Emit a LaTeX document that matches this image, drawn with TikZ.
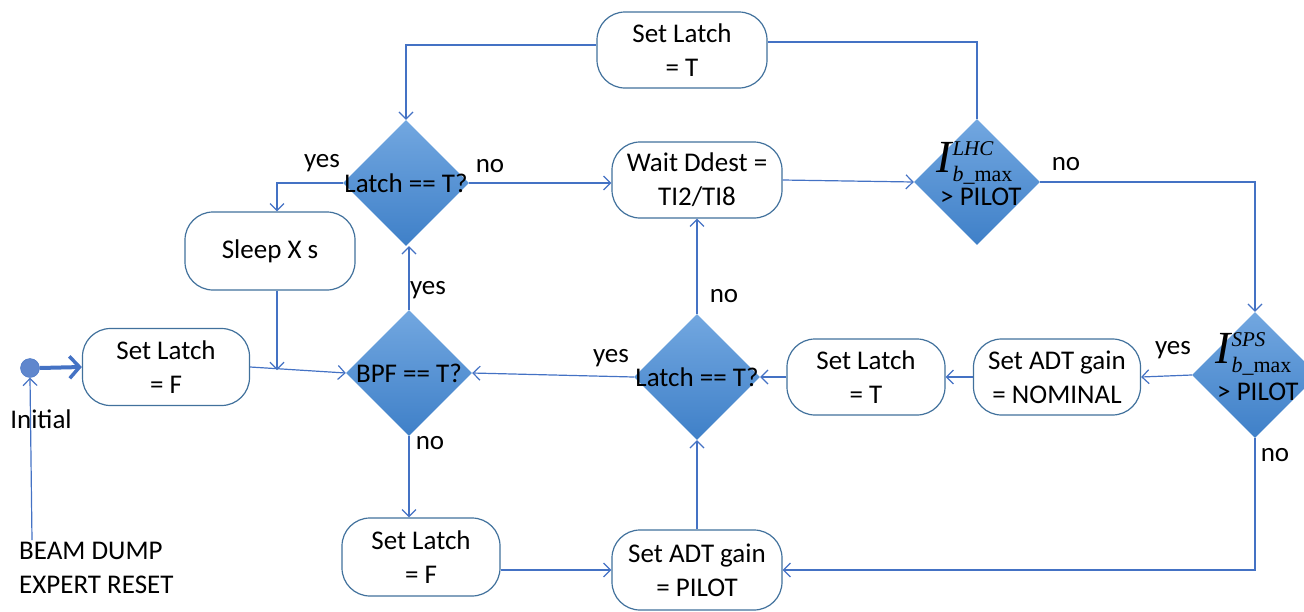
\documentclass[tikz,border=0pt]{standalone}
\usepackage{fontspec}
\setmainfont{Carlito}
\newfontfamily\tnr{Liberation Serif}
\usetikzlibrary{arrows.meta,shapes.geometric}
\definecolor{ln}{HTML}{4472C4}
\definecolor{bx}{HTML}{41719C}
\definecolor{dtop}{HTML}{72A7E0}
\definecolor{dbot}{HTML}{3F80C8}
\newcommand{\imax}[1]{{\tnr\itshape{\fontsize{46}{46}\selectfont I}\kern1pt\rlap{\raisebox{17pt}{\fontsize{21}{21}\selectfont #1}}\raisebox{-9pt}{\fontsize{22}{22}\selectfont b\upshape\_max}}}
\begin{document}
\begin{tikzpicture}[x=1pt,y=-1pt,
  every node/.style={font=\fontsize{27}{34}\selectfont, text=black},
  proc/.style={draw=bx, line width=1.2pt, rounded corners=28pt, align=center, inner sep=0pt, fill=white},
  dia/.style={diamond, top color=dtop, bottom color=dbot, draw=none, inner sep=0pt, minimum width=126pt, minimum height=126pt},
  conn/.style={draw=ln, line width=1.2pt},
  arr/.style={conn, -{Straight Barb[length=7pt,width=14pt,line width=1.2pt]}},
  lbl/.style={inner sep=0pt}
]
\useasboundingbox (0,0) rectangle (1304,611);
\clip (0,0) rectangle (1304,611);

% process boxes
\node[proc, minimum width=170pt, minimum height=76pt] (setT) at (682,50) {Set Latch\\= T};
\node[proc, minimum width=170pt, minimum height=76pt] (wait) at (697,180) {Wait Ddest =\\TI2/TI8};
\node[proc, minimum width=170pt, minimum height=78pt] (sleep) at (270,251) {Sleep X s};
\node[proc, minimum width=167pt, minimum height=77pt] (setF1) at (166,367) {Set Latch\\= F};
\node[proc, minimum width=158pt, minimum height=76pt] (setT2) at (866,377) {Set Latch\\= T};
\node[proc, minimum width=167pt, minimum height=76pt] (nom) at (1057,377) {Set ADT gain\\= NOMINAL};
\node[proc, minimum width=158pt, minimum height=78pt] (setF2) at (421,557) {Set Latch\\= F};
\node[proc, minimum width=170pt, minimum height=80pt] (pilot) at (697,570) {Set ADT gain\\= PILOT};

% decisions
\node[dia] (latchA) at (406,183) {};
\node[dia] (lhc) at (977,182) {};
\node[dia] (bpf) at (409,373) {};
\node[dia] (latchB) at (697,377) {};
\node[dia] (sps) at (1255,375) {};

\node[lbl] (tA) at (latchA.center) {Latch == T?};
\node[lbl] (tB) at (bpf.center) {BPF == T?};
\node[lbl] (tC) at (latchB.center) {Latch == T?};
\node[lbl, anchor=base west] (tLHC) at (936,172) {\imax{LHC}};
\node[lbl, anchor=base west] (tLHC2) at (940,205) {> PILOT};
\node[lbl, anchor=base west] (tSPS) at (1215,363) {\imax{SPS}};
\node[lbl, anchor=base west] (tSPS2) at (1217,400) {> PILOT};

% initial
\node[circle, fill=ln!85!white, draw=ln, minimum size=19pt, inner sep=0pt] (init) at (30,368) {};
\node[lbl] (initT) at (41,419) {Initial};
\node[lbl, align=left, anchor=north west] (beam) at (19,542) {BEAM DUMP\\EXPERT RESET};
\coordinate (beamTop) at (32,540);

% connectors
\draw[arr] ([yshift=5pt]setT.west) -| (latchA.north);
\draw[conn] (lhc.north) |- ([yshift=8pt]setT.east);
\draw[arr] (latchA.east) -- (wait.west |- latchA.east);
\draw[arr] (latchA.west) -| ([xshift=7pt]sleep.north);
\draw[arr] (wait.east) -- (lhc.west);
\draw[arr] (lhc.east) -| (sps.north);
\draw[arr] (sps.west) -- (nom.east);
\draw[arr] (nom.west) -- (setT2.east);
\draw[arr] (setT2.west) -- (latchB.east);
\draw[arr] (latchB.west) -- (bpf.east);
\draw[arr] (latchB.north) -- (wait.south);
\draw[arr] (bpf.north) -- (bpf.north |- latchA.south);
\draw[arr] (bpf.south) -- (bpf.south |- setF2.north);
\draw[arr] (setF2.east |- pilot.west) -- (pilot.west);
\draw[arr] (pilot.north) -- (latchB.south);
\draw[arr] (sps.south) |- (pilot.east);
\draw[arr] (setF1.east) -- (bpf.west);
\coordinate (join) at ([xshift=7pt]sleep.south |- 0,370);
\draw[arr] ([xshift=7pt]sleep.south) -- (join);
\draw[draw=ln, line width=4pt, -{Straight Barb[length=10pt,width=22pt,line width=3.5pt]}] (init.east) -- (setF1.west);
\draw[arr] (beamTop) -- (init.south);

% labels
\node[lbl] (yA) at (322,163) {yes};
\node[lbl] (nA) at (490,166) {no};
\node[lbl] (nL) at (1066,164) {no};
\node[lbl] (yS) at (1173,350) {yes};
\node[lbl] (nS) at (1275,455) {no};
\node[lbl] (yC) at (611,358) {yes};
\node[lbl] (nC) at (724,296) {no};
\node[lbl] (yB) at (428,290) {yes};
\node[lbl] (nB) at (430,443) {no};
\end{tikzpicture}
\end{document}
